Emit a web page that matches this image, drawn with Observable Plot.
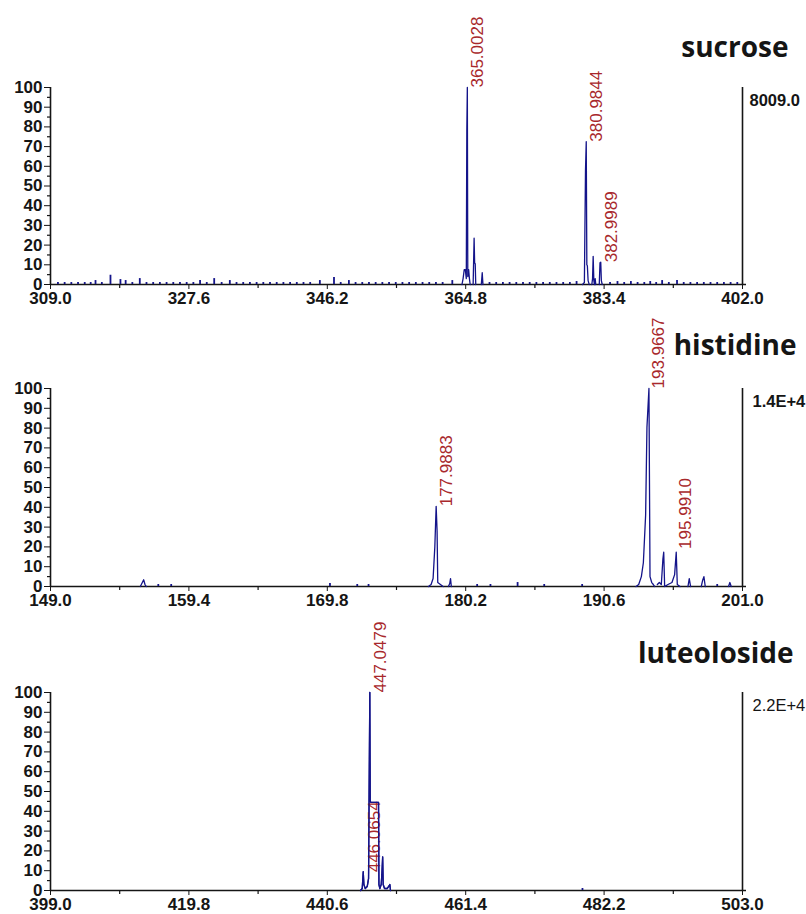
<!DOCTYPE html>
<html><head><meta charset="utf-8">
<script src="https://cdn.jsdelivr.net/npm/d3@7"></script>
<script src="https://cdn.jsdelivr.net/npm/@observablehq/plot@0.6"></script>
<style>html,body{margin:0;padding:0;background:#fff;overflow:hidden;} svg{display:block;overflow:visible;}</style>
</head><body><div id="chart"></div>
<script>
// ---------- shared axis data ----------
const yTicks = [0, 10, 20, 30, 40, 50, 60, 70, 80, 90, 100];
const yMinorTicks = [5, 15, 25, 35, 45, 55, 65, 75, 85, 95];

// ---------- sucrose ----------
const sucroseTitle = "sucrose";
const sucroseScale = "8009.0";
const sucroseXTicks = [309.0, 327.6, 346.2, 364.8, 383.4, 402.0];
const sucroseXMinor = [318.3, 336.9, 355.5, 374.1, 392.7];
const sucroseMz = [364.3, 364.45, 364.6, 364.75, 364.88, 364.95, 365.02, 365.08, 365.2, 365.3, 365.4, NaN,
  365.8, 365.93, 366.0, 366.08, 366.15, NaN,
  366.9, 367.02, 367.12, NaN,
  380.5, 380.75, 380.9, 381.0, 381.08, 381.15, 381.25, 381.4, NaN,
  381.75, 381.85, 381.93, 382.02, 382.1, 382.2, 382.28, NaN,
  382.75, 382.85, 382.95, 383.03, 383.15];
const sucroseIntensity = [0, 3, 7.5, 7.5, 3, 78, 100, 4, 7.5, 3, 0, NaN,
  0, 23.5, 11, 10.5, 0, NaN,
  0, 6, 0, NaN,
  0, 1, 58, 72.5, 10, 9.5, 2, 0, NaN,
  0, 3, 14.3, 2, 0, 3, 0, NaN,
  0, 11, 11.3, 2, 0];
const sucroseNoiseMz = [310.0, 310.9, 311.8, 312.7, 313.6, 314.4, 315.05, 315.9, 317.06, 318.4, 319.1, 320.0, 321.0,
  321.9, 322.8, 323.7, 324.6, 325.5, 326.4, 327.3, 328.2, 329.1, 330.0, 331.0, 332.0, 333.1, 334.0, 334.9,
  335.8, 336.7, 337.6, 338.5, 339.4, 340.3, 341.2, 342.1, 343.0, 343.9, 345.2, 347.1, 348.0, 349.1, 350.0,
  350.9, 351.8, 352.7, 353.6, 354.5, 355.4, 356.3, 357.2, 358.1, 359.0, 359.9, 360.8, 361.7, 363.0,
  368.0, 368.9, 369.8, 370.7, 371.6, 372.5, 373.4, 374.3, 375.2, 376.1, 377.0, 377.9, 378.8, 379.7,
  384.2, 385.2, 386.1, 387.0, 387.9, 388.8, 389.6, 390.4, 391.2, 392.1, 393.2, 394.1, 395.0, 395.9,
  396.8, 397.7, 398.6, 399.5, 400.4, 401.3];
const sucroseNoiseIntensity = [1, 1, 1, 1, 1, 1, 2, 1, 4.7, 2.5, 2, 1, 3,
  1, 1, 1, 1, 1, 1, 1, 1, 2, 1, 3, 1, 2, 1, 1,
  1, 1, 1, 1, 1, 1, 1, 1, 1, 1, 2, 3.5, 1, 2, 1,
  1, 1, 1, 1, 1, 1, 1, 1, 1, 1, 1, 1, 1, 2,
  1, 1, 1, 1, 1, 1, 1, 1, 1, 1, 1, 1, 1, 1.5,
  1, 1.5, 1, 1.5, 1, 1, 1.5, 1, 2, 1, 2, 1, 1, 1,
  1, 1, 1, 1, 1, 1];
const sucroseLabelMz = [365.0028, 380.9844, 382.9989];
const sucroseLabelIntensity = [100, 72.5, 11.3];

// ---------- histidine ----------
const histidineTitle = "histidine";
const histidineScale = "1.4E+4";
const histidineXTicks = [149.0, 159.4, 169.8, 180.2, 190.6, 201.0];
const histidineXMinor = [154.2, 164.6, 175.0, 185.4, 195.8];
const histidineMz = [155.75, 155.9, 156.0, 156.1, 156.2, NaN,
  177.4, 177.6, 177.75, 177.88, 177.98, 178.05, 178.1, 178.3, 178.5, NaN,
  178.9, 179.0, 179.06, 179.12, NaN,
  193.0, 193.2, 193.4, 193.55, 193.72, 193.82, 193.97, 194.05, 194.18, 194.3, 194.4, NaN,
  194.6, 194.75, 194.9, 195.02, 195.08, 195.15, 195.4, 195.7, 195.9, 196.02, 196.1, 196.3, NaN,
  196.9, 197.0, 197.1, NaN,
  197.9, 198.0, 198.1, 198.2, NaN,
  199.95, 200.05, 200.15];
const histidineIntensity = [0, 2, 3.4, 1, 0, NaN,
  0, 1, 4, 20, 40.5, 28, 2, 1, 0, NaN,
  0, 1.5, 4, 0, NaN,
  0, 1, 5, 12, 36, 80.5, 100, 5, 2, 1, 0, NaN,
  1, 2, 1, 14, 17.3, 0, 1, 2, 6, 17.3, 1, 0, NaN,
  0, 4, 0, NaN,
  0, 3, 5, 0, NaN,
  0, 2, 0];
const histidineNoiseMz = [157.1, 158.07, 170.0, 172.05, 172.9, 181.06, 182.06, 184.1, 186.1, 188.95, 199.1];
const histidineNoiseIntensity = [1, 1, 1.5, 1, 1, 1, 1, 2, 1, 1, 1];
const histidineLabelMz = [177.9883, 193.9667, 195.9910];
const histidineLabelIntensity = [40.5, 100, 19];

// ---------- luteoloside ----------
const luteolosideTitle = "luteoloside";
const luteolosideScale = "2.2E+4";
const luteolosideXTicks = [399.0, 419.8, 440.6, 461.4, 482.2, 503.0];
const luteolosideXMinor = [409.4, 430.2, 451.0, 471.8, 492.6];
const luteolosideMz = [445.6, 445.85, 446.0, 446.1, 446.3, 446.6, 446.8, 446.88, 446.99, 447.05, 447.15,
  448.3, 448.36, 448.5, 448.7, 448.8, 448.92, 449.0, 449.2, 449.6, 450.0, 450.1];
const luteolosideIntensity = [0, 1, 9.5, 3, 1, 2, 6, 47, 100, 45, 44.5,
  44.5, 3, 1, 3, 8, 17, 3, 1, 1, 3, 0];
const luteolosideNoiseMz = [478.95];
const luteolosideNoiseIntensity = [1];
const luteolosideLabelMz = [447.0479];
const luteolosideLabelIntensity = [100];
const luteolosideHiddenLabel = "446.0654";

// ---------- drawing ----------
const LINE = "#14148a";
const RED = "#a8282c";
const INK = "#151515";

function panel(o) {
  const xmin = o.xTicks[0], xmax = o.xTicks[o.xTicks.length - 1];
  const spec = o.mz.map((m, i) => ({mz: m, v: o.intensity[i]}));
  const noise = o.noiseMz.map((m, i) => ({mz: m, v: o.noiseIntensity[i]}));
  const labels = o.labelMz.map((m, i) => ({mz: m, v: o.labelIntensity[i], t: m.toFixed(4)}));
  const marks = [
    Plot.ruleY([0], {stroke: INK, strokeWidth: 1.6, insetRight: -4}),
    Plot.ruleX([xmin], {y1: 0, y2: 100, stroke: INK, strokeWidth: 1.6}),
    Plot.ruleX([xmax], {y1: 0, y2: 100, stroke: INK, strokeWidth: 1.6}),
    Plot.ruleX(o.xMinor, {x: d => d, y1: 0, y2: 0, insetBottom: -4, stroke: INK, strokeWidth: 1.2}),
    Plot.ruleY(yMinorTicks, {y: d => d, x1: xmin, x2: xmin, insetLeft: -3, stroke: INK, strokeWidth: 1.2}),
    Plot.ruleX(noise, {x: "mz", y1: 0, y2: "v", stroke: LINE, strokeWidth: 1.8}),
    Plot.line(spec, {x: "mz", y: "v", stroke: LINE, strokeWidth: 1.3}),
    Plot.text(labels, {x: "mz", y: "v", text: "t", rotate: -90, textAnchor: "start", dx: 10,
      fill: RED, fontSize: 17, fontWeight: "normal", fontFamily: "Liberation Sans, Arial, sans-serif"}),
    Plot.text([o.scale], {x: () => xmax, y: () => 100, text: d => d, textAnchor: "start", dx: o.scaleDx, dy: 13,
      fill: INK, fontSize: 16.5, fontWeight: o.scaleWeight, fontFamily: "Liberation Sans, Arial, sans-serif"}),
    Plot.text([o.title], {x: () => xmax, y: () => 100, text: d => d, textAnchor: "end", dx: o.titleDx, dy: o.titleDy,
      fill: INK, fontSize: 28, fontWeight: "bold", fontFamily: "Open Sans, sans-serif"})
  ];
  if (o.hidden) {
    marks.push(Plot.text([o.hidden], {x: () => 446.88, y: () => 45, text: d => d, rotate: -90, textAnchor: "end", dx: 5,
      fill: RED, fontSize: 17, fontWeight: "normal", fontFamily: "Liberation Sans, Arial, sans-serif"}));
    marks.push(Plot.line(spec, {x: "mz", y: "v", stroke: LINE, strokeWidth: 1.3}));
  }
  return Plot.plot({
    width: 806,
    height: o.height,
    marginTop: o.marginTop,
    marginBottom: o.marginBottom,
    marginLeft: 50,
    marginRight: 64,
    style: {fontFamily: "Liberation Sans, Arial, sans-serif", fontSize: "17px", fontWeight: "bold", color: INK, background: "transparent", overflow: "visible"},
    x: {domain: [xmin, xmax], ticks: o.xTicks, tickFormat: d => d.toFixed(1), tickSize: 5, tickPadding: 2, label: null, line: false},
    y: {domain: [0, 100], ticks: yTicks, tickSize: 6, tickPadding: 2, label: null, line: false},
    marks
  });
}

const root = document.getElementById("chart");
root.appendChild(panel({title: sucroseTitle, scale: sucroseScale, scaleDx: 7, scaleWeight: "bold",
  titleDx: 46, titleDy: -39, xTicks: sucroseXTicks, xMinor: sucroseXMinor,
  mz: sucroseMz, intensity: sucroseIntensity, noiseMz: sucroseNoiseMz, noiseIntensity: sucroseNoiseIntensity,
  labelMz: sucroseLabelMz, labelIntensity: sucroseLabelIntensity, height: 302, marginTop: 87, marginBottom: 18}));
root.appendChild(panel({title: histidineTitle, scale: histidineScale, scaleDx: 10, scaleWeight: "bold",
  titleDx: 54, titleDy: -42, xTicks: histidineXTicks, xMinor: histidineXMinor,
  mz: histidineMz, intensity: histidineIntensity, noiseMz: histidineNoiseMz, noiseIntensity: histidineNoiseIntensity,
  labelMz: histidineLabelMz, labelIntensity: histidineLabelIntensity, height: 304, marginTop: 86, marginBottom: 20}));
root.appendChild(panel({title: luteolosideTitle, scale: luteolosideScale, scaleDx: 10, scaleWeight: "normal",
  titleDx: 51, titleDy: -38, xTicks: luteolosideXTicks, xMinor: luteolosideXMinor,
  mz: luteolosideMz, intensity: luteolosideIntensity, noiseMz: luteolosideNoiseMz, noiseIntensity: luteolosideNoiseIntensity,
  labelMz: luteolosideLabelMz, labelIntensity: luteolosideLabelIntensity, hidden: luteolosideHiddenLabel,
  height: 308, marginTop: 86, marginBottom: 24}));
</script></body></html>
